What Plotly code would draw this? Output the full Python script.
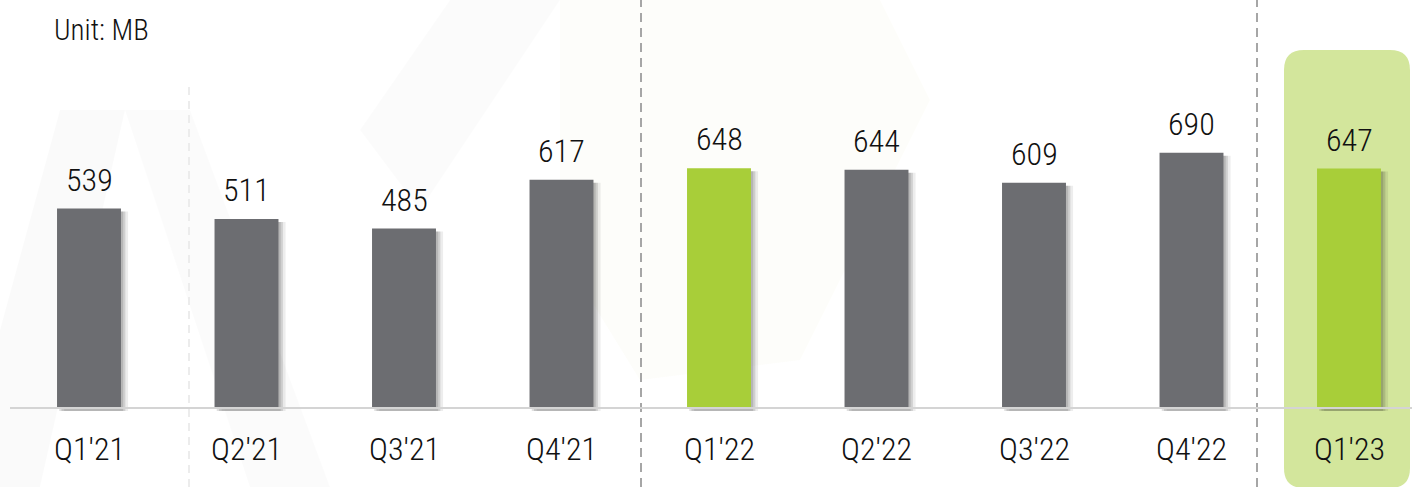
import plotly.graph_objects as go

# ---- data ----
categories = ["Q1'21", "Q2'21", "Q3'21", "Q4'21", "Q1'22", "Q2'22", "Q3'22", "Q4'22", "Q1'23"]
values = [539, 511, 485, 617, 648, 644, 609, 690, 647]
highlight = [False, False, False, False, True, False, False, False, True]
unit_label = "Unit: MB"

# ---- style ----
W, H = 1412, 487
GRAY = "#6c6d71"
GREEN = "#a8ce39"
BOX = "#d3e69c"
TEXT = "#111111"
FONT = "Roboto Condensed, sans-serif"
WEIGHT = 300

bar_colors = [GREEN if h else GRAY for h in highlight]
bw = 0.406

fig = go.Figure()

# soft shadows
for off, op in [(0.045, 0.07), (0.028, 0.12), (0.014, 0.12)]:
    fig.add_trace(go.Bar(
        x=categories, y=values, base=-8, width=bw, offset=-bw / 2 + off,
        marker=dict(color=f"rgba(0,0,0,{op})", line=dict(width=0)),
        hoverinfo="skip", showlegend=False))

fig.add_trace(go.Bar(
    x=categories, y=values, width=bw, offset=-bw / 2,
    marker=dict(color=bar_colors, line=dict(width=0)),
    showlegend=False, hovertemplate="%{x}: %{y}<extra></extra>"))

annotations = []
for c, v in zip(categories, values):
    annotations.append(dict(x=c, y=v, xref="x", yref="y", text=str(v), showarrow=False,
                            yanchor="middle", yshift=29,
                            font=dict(family=FONT, weight=WEIGHT, size=32, color=TEXT)))
    annotations.append(dict(x=c, y=0, xref="x", yref="y", text=c, showarrow=False,
                            yanchor="middle", yshift=-41,
                            font=dict(family=FONT, weight=WEIGHT, size=32, color=TEXT)))
annotations.append(dict(x=52 / W, y=1 - 30 / H, xref="paper", yref="paper", text=unit_label,
                        showarrow=False, xanchor="left", yanchor="middle",
                        font=dict(family=FONT, weight=WEIGHT, size=29, color=TEXT)))


def px(x, y):
    return f"{x / W:.5f},{1 - y / H:.5f}"


def poly(pts):
    return "M " + " L ".join(px(x, y) for x, y in pts) + " Z"


# highlight rounded box
x0, x1, y0, y1, r = 1284, 1410, 50, 488, 20
box_path = (f"M {px(x0 + r, y0)} L {px(x1 - r, y0)} Q {px(x1, y0)} {px(x1, y0 + r)} "
            f"L {px(x1, y1 - r)} Q {px(x1, y1)} {px(x1 - r, y1)} "
            f"L {px(x0 + r, y1)} Q {px(x0, y1)} {px(x0, y1 - r)} "
            f"L {px(x0, y0 + r)} Q {px(x0, y0)} {px(x0 + r, y0)} Z")

shapes = [
    # faint watermark shapes
    dict(type="path", xref="paper", yref="paper", layer="below", line=dict(width=0),
         fillcolor="rgba(0,0,0,0.02)",
         path=poly([(0, 330), (60, 110), (125, 110), (40, 487), (0, 487)])),
    dict(type="path", xref="paper", yref="paper", layer="below", line=dict(width=0),
         fillcolor="rgba(0,0,0,0.015)",
         path=poly([(125, 110), (190, 110), (330, 487), (250, 487)])),
    dict(type="path", xref="paper", yref="paper", layer="below", line=dict(width=0),
         fillcolor="rgba(0,0,0,0.015)",
         path=poly([(360, 130), (450, 0), (560, 0), (420, 210)])),
    dict(type="path", xref="paper", yref="paper", layer="below", line=dict(width=0),
         fillcolor="rgba(160,190,60,0.025)",
         path=poly([(560, 0), (880, 0), (930, 100), (800, 360), (640, 380), (560, 250)])),
    dict(type="path", xref="paper", yref="paper", layer="below", line=dict(width=0),
         fillcolor=BOX, path=box_path),
    # faint dashed line
    dict(type="line", xref="paper", yref="paper", x0=189 / W, x1=189 / W, y0=0, y1=1 - 82 / H,
         layer="below", line=dict(color="#ececec", width=2, dash="8px,6px")),
    # separators
    dict(type="line", xref="paper", yref="paper", x0=641 / W, x1=641 / W, y0=0, y1=1,
         layer="above", line=dict(color="#a6a6a6", width=2, dash="9px,6px")),
    dict(type="line", xref="paper", yref="paper", x0=1257 / W, x1=1257 / W, y0=0, y1=1,
         layer="above", line=dict(color="#a6a6a6", width=2, dash="9px,6px")),
    # baseline
    dict(type="line", xref="paper", yref="y", x0=10 / W, x1=1, y0=0, y1=0,
         layer="above", line=dict(color="#d4d4d4", width=2)),
]

fig.update_layout(
    width=W, height=H,
    margin=dict(l=0, r=0, t=0, b=0),
    paper_bgcolor="white", plot_bgcolor="rgba(0,0,0,0)",
    barmode="overlay",
    showlegend=False,
    xaxis=dict(type="category", categoryorder="array", categoryarray=categories,
               range=[-89 / 157.5, (W - 89) / 157.5], showticklabels=False,
               showgrid=False, zeroline=False, showline=False, fixedrange=True),
    yaxis=dict(range=[-(H - 408) / 0.37, 408 / 0.37], showticklabels=False,
               showgrid=False, zeroline=False, showline=False, fixedrange=True),
    annotations=annotations,
    shapes=shapes,
)

fig.write_html("out.html", config={"displayModeBar": False},
               post_script="document.body.style.margin='0';document.body.style.overflow='hidden';")
